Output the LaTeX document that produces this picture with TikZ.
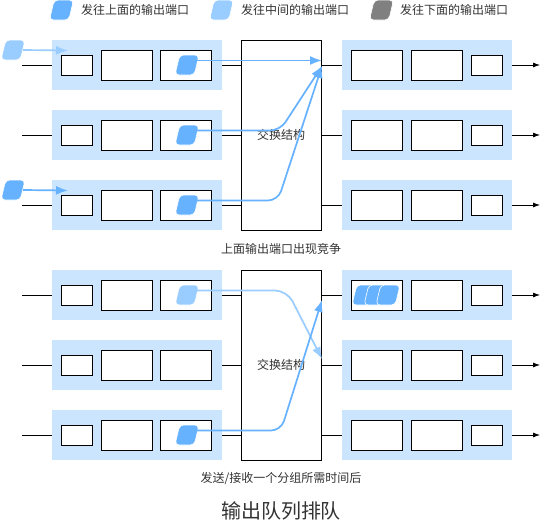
\documentclass[tikz,border=0pt]{standalone}
\usepackage{fontspec}
\setmainfont{Noto Sans CJK SC}
\usetikzlibrary{shapes.geometric,arrows.meta}
\definecolor{pdark}{HTML}{66B2FF}
\definecolor{plight}{HTML}{99CCFF}
\definecolor{pgrey}{HTML}{808080}
\definecolor{bandc}{HTML}{CCE5FF}
\definecolor{txt}{HTML}{333333}
\begin{document}
\begin{tikzpicture}[x=1pt,y=-1pt,
  bandbox/.style={fill=bandc,draw=none,minimum width=170pt,minimum height=50pt,inner sep=0},
  smallbox/.style={draw=black,fill=white,line width=0.8pt,minimum width=31pt,minimum height=20pt,inner sep=0},
  bigbox/.style={draw=black,fill=white,line width=0.8pt,minimum width=51pt,minimum height=30pt,inner sep=0},
  switchbox/.style={draw=black,fill=white,line width=0.8pt,minimum width=80pt,minimum height=190pt,inner sep=0,text=txt,font=\fontsize{12}{14}\selectfont},
  pkt/.style={trapezium,trapezium left angle=72,trapezium right angle=108,trapezium stretches=true,rounded corners=4pt,minimum width=24pt,minimum height=20pt,inner sep=1pt,draw=white,line width=0.6pt},
  blk/.style={draw=black,line width=0.8pt},
  outarrow/.style={blk,-{Latex[length=7pt,width=5pt]}},
  parrow/.style={line width=1.7pt,-{Latex[length=12pt,width=9pt]}},
  lbl/.style={text=txt,font=\fontsize{12}{14}\selectfont,inner sep=0},
]
\useasboundingbox (0,0) rectangle (550,525);

% legend
\node[pkt,fill=pdark] (lg1) at (61.5,10) {};
\node[lbl,anchor=west] (lt1) at (81,10) {发往上面的输出端口};
\node[pkt,fill=plight] (lg2) at (221.5,10) {};
\node[lbl,anchor=west] (lt2) at (241,10) {发往中间的输出端口};
\node[pkt,fill=pgrey] (lg3) at (381.5,10) {};
\node[lbl,anchor=west] (lt3) at (400,10) {发往下面的输出端口};

% switches
\node[switchbox] (sw1) at (281,135) {交换结构};
\node[switchbox] (sw2) at (281,365) {交换结构};

% rows
\foreach \r/\y/\s in {1/65/sw1,2/135/sw1,3/205/sw1,4/295/sw2,5/365/sw2,6/435/sw2} {
  \coordinate (in\r) at (22,\y);
  \coordinate (out\r) at (540,\y);
  \node[bandbox] (lb\r) at (137,\y) {};
  \node[smallbox] (ls\r) at (76.5,\y) {};
  \node[bigbox] (lm\r) at (126.5,\y) {};
  \node[bigbox] (lr\r) at (186,\y) {};
  \node[bandbox] (rb\r) at (427,\y) {};
  \node[bigbox] (rl\r) at (376.5,\y) {};
  \node[bigbox] (rm\r) at (436.5,\y) {};
  \node[smallbox] (rs\r) at (486.5,\y) {};
  \draw[blk] (in\r) -- (lb\r.west);
  \draw[blk] (lb\r.east) -- (\s.west |- lb\r.east);
  \draw[blk] (\s.east |- rb\r.west) -- (rb\r.west);
  \draw[outarrow] (rb\r.east) -- (out\r);
}

% arrow targets
\coordinate (t1) at (322,60.5);
\coordinate (t2) at (322,66);
\coordinate (tb1) at (322,359);
\coordinate (tb3) at (322,300);
\coordinate (a1) at (68,50.5);
\coordinate (a3) at (68,190.5);

% top packets
\node[pkt,fill=plight] (i1) at (13,50) {};
\node[pkt,fill=pdark] (i3) at (13,190) {};
\draw[parrow,plight] (i1.east) -- (a1);
\draw[parrow,pdark] (i3.east) -- (a3);

\node[pkt,fill=pdark] (p1) at (187,65) {};
\node[pkt,fill=pdark] (p2) at (187,135) {};
\node[pkt,fill=pdark] (p3) at (187,205) {};
\draw[parrow,pdark] ([yshift=4.5pt]p1.east) -- (t1);
\draw[parrow,pdark,rounded corners=10pt] ([yshift=4.5pt]p2.east) -- (280,130.5) -- (t2);
\draw[parrow,pdark,rounded corners=10pt] ([yshift=4.5pt]p3.east) -- (278,200.5) -- (t2);

% bottom packets
\node[pkt,fill=plight] (p4) at (187,295) {};
\node[pkt,fill=pdark] (p6) at (187,435) {};
\draw[parrow,plight,rounded corners=12pt] ([yshift=4.5pt]p4.east) -- (287,290.5) -- (tb1);
\draw[parrow,pdark,rounded corners=10pt] ([yshift=4.5pt]p6.east) -- (281,430.5) -- (tb3);

\node[pkt,fill=pdark] (q1) at (364,295) {};
\node[pkt,fill=pdark] (q2) at (376,295) {};
\node[pkt,fill=pdark] (q3) at (388,295) {};

% captions
\node[lbl] (cap1) at (281,249) {上面输出端口出现竞争};
\node[lbl] (cap2) at (281,479) {发送/接收一个分组所需时间后};
\node[lbl,font=\fontsize{20}{24}\selectfont] (title) at (281,511) {输出队列排队};
\end{tikzpicture}
\end{document}
